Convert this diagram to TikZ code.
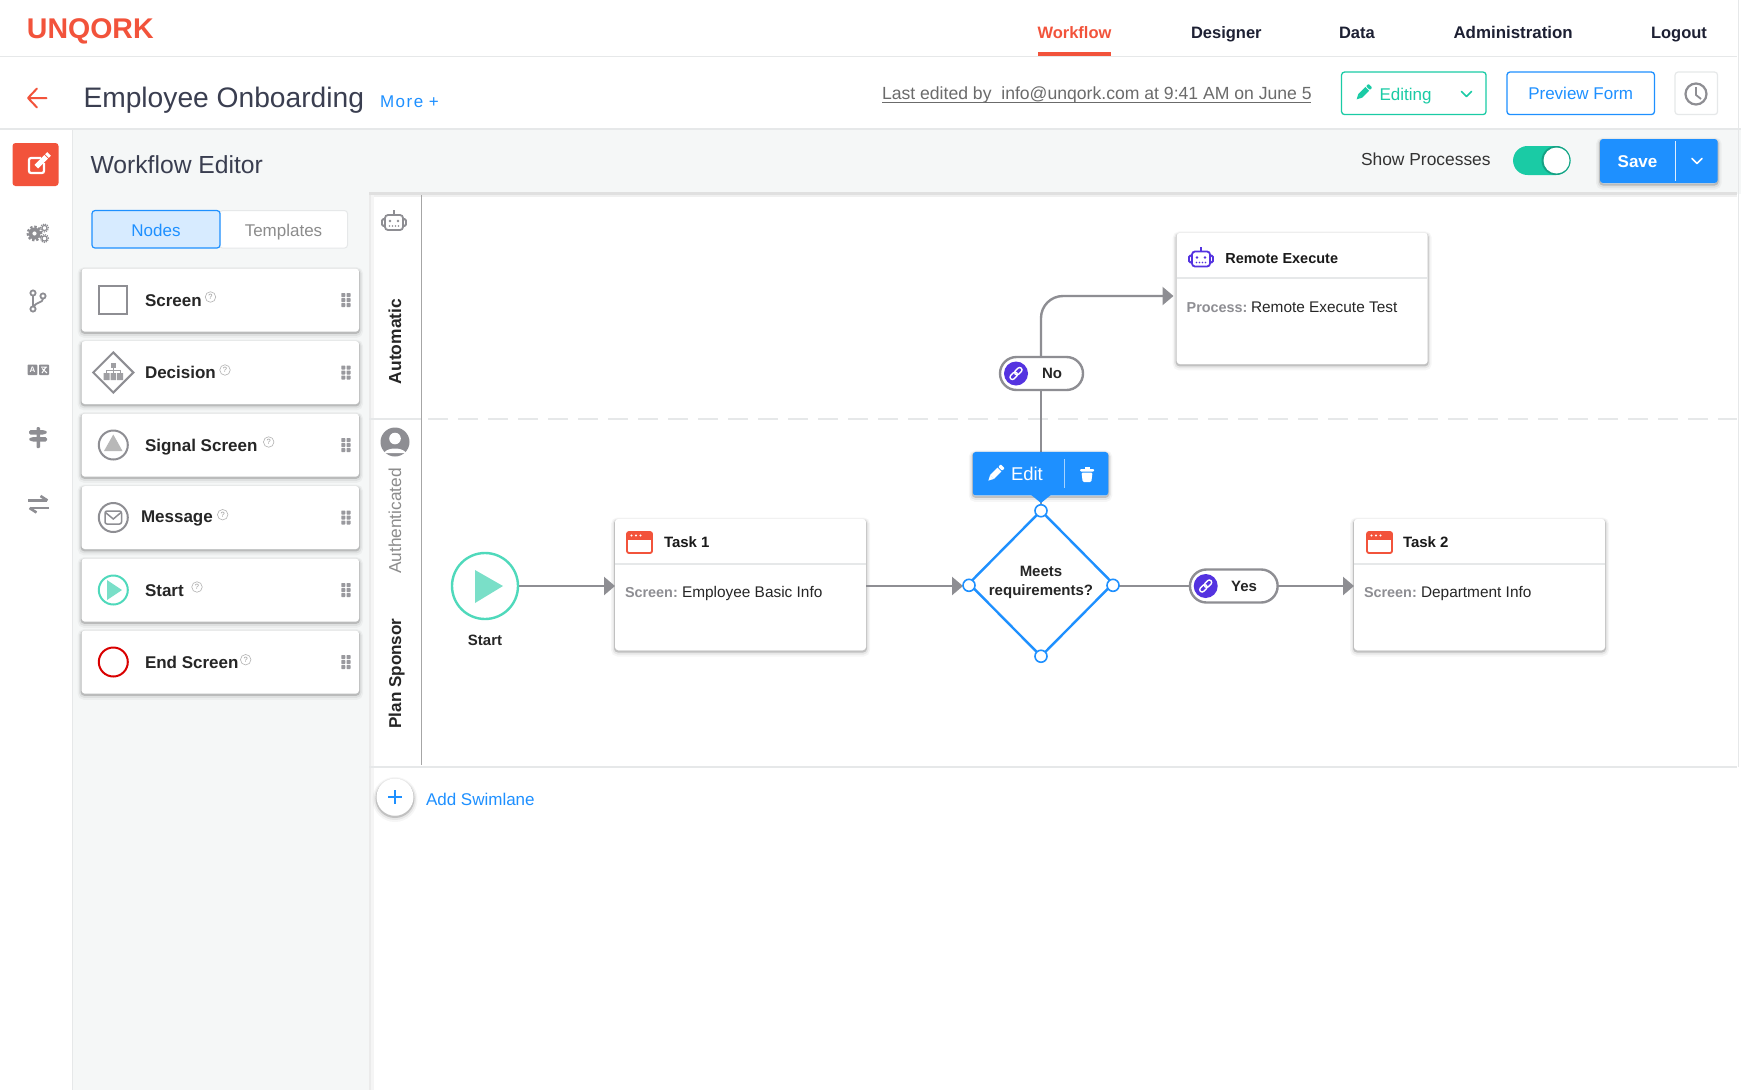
\documentclass[tikz,border=0pt]{standalone}
\usepackage{fontspec}
\setmainfont{Liberation Sans}
\usetikzlibrary{arrows.meta,shapes.geometric}
\definecolor{uRed}{HTML}{F2533B}
\definecolor{uDark}{HTML}{3A3E50}
\definecolor{uNav}{HTML}{1D2033}
\definecolor{uBlue}{HTML}{1E90FF}
\definecolor{uTeal}{HTML}{1ACBA5}
\definecolor{uMint}{HTML}{4FD9BB}
\definecolor{uMintF}{HTML}{7ADFC8}
\definecolor{uGray}{HTML}{8E8E93}
\definecolor{uLight}{HTML}{E6E8E9}
\definecolor{uSide}{HTML}{F5F7F7}
\definecolor{uPurple}{HTML}{5433E0}
\newcommand\fz[1]{\fontsize{#1}{19}\selectfont}
\tikzset{
  softshadow/.style={
    preaction={draw=black,draw opacity=.035,line width=8pt,transform canvas={yshift=-2.5pt}},
    preaction={draw=black,draw opacity=.06,line width=5pt,transform canvas={yshift=-2pt}},
    preaction={draw=black,draw opacity=.16,line width=2pt,transform canvas={yshift=-1.5pt}}},
  txt/.style={inner sep=0pt,outer sep=0pt,anchor=base west},
  nav/.style={txt,font=\fz{16.5}\bfseries,text=uNav},
  cardlbl/.style={txt,font=\fz{17}\bfseries,text=black!85},
  nodetitle/.style={txt,font=\fz{15}\bfseries,text=black!90},
  nodekey/.style={txt,font=\fz{14.4}\bfseries,text=uGray},
  nodeval/.style={txt,font=\fz{15.4},text=black!85},
  lane/.style={inner sep=0pt,anchor=base,rotate=90},
  box/.style={rectangle,inner sep=0pt,outer sep=0pt,rounded corners=3pt},
  card/.style={box,fill=white,softshadow,minimum width=277.5pt,minimum height=62.7pt},
  wfcard/.style={box,fill=white,softshadow,minimum width=251pt,minimum height=131pt},
  conn/.style={draw=uGray,line width=2.4pt,-{Triangle[length=11pt,width=18pt]}},
  wire/.style={draw=uGray,line width=2.4pt},
  pill/.style={box,draw=uGray,line width=2.4pt,fill=white,rounded corners=16.5pt,minimum height=33pt},
  handle/.style={circle,draw=uBlue,fill=white,line width=1.6pt,inner sep=0pt,minimum size=12pt},
  iconring/.style={circle,draw=uGray,line width=2pt,inner sep=0pt,minimum size=29pt},
}
\newcommand\pencil[4]{\begin{scope}[shift={(#1,#2)},rotate=45,scale=#3]
  \fill[#4] (-3,-2.4) rectangle (6,2.4);
  \fill[#4] (-3,-2.4) -- (-3,2.4) -- (-7.5,0) -- cycle;
  \fill[#4] (7,-2.4) [rounded corners=.8pt] -- (7,2.4) -- (10,2.4) -- (10,-2.4) -- cycle;
\end{scope}}
\newcommand\chev[3]{\draw[#3,line width=1.6pt,line cap=round,line join=round] (#1-5,#2-2.5) -- (#1,#2+2.5) -- (#1+5,#2-2.5);}
\newcommand\robot[3]{\begin{scope}[shift={(#1,#2)}]
  \draw[#3,line width=1.8pt,rounded corners=3pt] (-9,-5) rectangle (9,10);
  \draw[#3,line width=1.8pt,rounded corners=1.5pt] (-9,-1) -- (-12,-1) -- (-12,6) -- (-9,6);
  \draw[#3,line width=1.8pt,rounded corners=1.5pt] (9,-1) -- (12,-1) -- (12,6) -- (9,6);
  \draw[#3,line width=1.5pt] (0,-5) -- (0,-10);
  \fill[#3] (-4,1) circle (1.4pt) (4,1) circle (1.4pt);
  \foreach \q in {-4.5,-1.5,1.5,4.5}{\fill[#3] (\q,6) circle (.9pt);}
\end{scope}}
\newcommand\screenicon[2]{\begin{scope}[shift={(#1,#2)}]
  \fill[uRed,rounded corners=2pt] (0,0) rectangle (25,7.5);
  \fill[uRed] (0,4) rectangle (25,7.5);
  \draw[uRed,line width=1.8pt,rounded corners=2pt] (0,0) rectangle (25,21);
  \foreach \q in {4.5,9,13.5}{\fill[white] (\q,3.5) circle (1.2pt);}
\end{scope}}
\newcommand\linkicon[2]{\begin{scope}[shift={(#1,#2)},rotate=45]
  \draw[white,line width=1.4pt,rounded corners=2.4pt] (-7.5,-2.4) rectangle (1,2.4);
  \draw[white,line width=1.4pt,rounded corners=2.4pt] (-1,-2.4) rectangle (7.5,2.4);
\end{scope}}
\newcommand\qmark[3]{\node[circle,draw=black!30,line width=.6pt,inner sep=0pt,minimum size=10.5pt,text=black!40,font=\fz{7.5}] (#1) at (#2,#3) {?};}
\newcommand\grip[1]{\foreach \q in {-5,0,5}{\fill[uGray!90,rounded corners=.6pt] (341.3,#1+\q-2) rectangle (345.3,#1+\q+2);\fill[uGray!90,rounded corners=.6pt] (346.5,#1+\q-2) rectangle (350.5,#1+\q+2);}}
\begin{document}
\begin{tikzpicture}[x=1pt,y=-1pt]
\useasboundingbox (0,0) rectangle (1741,1090);
\fill[white] (0,0) rectangle (1741,1090);
% bands
\fill[uSide] (72,130) rectangle (1741,194);
\fill[uSide] (72,130) rectangle (369,1090);
\draw[uLight,line width=1.2pt] (0,56.5) -- (1737,56.5);
\draw[uLight,line width=2pt] (0,129) -- (1741,129);
\draw[uLight,line width=1pt] (72,130) -- (72,1090);
\draw[uLight,line width=1pt] (1738,0) -- (1738,767);
% canvas
\fill[black!12] (369,192) rectangle (1737,195);
\fill[black!6] (369,195) rectangle (1737,197);
\fill[black!8] (369,195) rectangle (371,1090);
\fill[black!4] (371,195) rectangle (374,1090);
\draw[uLight,line width=2.5pt] (369,767) -- (1737,767);
\draw[uLight,line width=2pt] (369,419.3) -- (422,419.3);
\draw[uLight,line width=2pt,dash pattern=on 20pt off 10pt] (428,419.3) -- (1737,419.3);
\draw[black!35,line width=1.5pt] (421.5,195) -- (421.5,765);
% top bar
\node[txt,font=\fz{28.5}\bfseries,text=uRed] (logo) at (27,38) {UNQORK};
\node[nav,text=uRed] (nWorkflow) at (1037.5,38) {Workflow};
\fill[uRed] (1038,52) rectangle (1111,56);
\node[nav] (nDesigner) at (1191,38) {Designer};
\node[nav] (nData) at (1339,38) {Data};
\node[nav,font=\fz{16.9}\bfseries] (nAdmin) at (1453.5,38) {Administration};
\node[nav] (nLogout) at (1651,38) {Logout};
% second bar
\draw[uRed,line width=2pt,line cap=round,line join=round] (46.5,98) -- (28.5,98) (37,88.5) -- (28,98) -- (37,107.5);
\node[txt,font=\fz{28.2},text=uDark] (title) at (83.5,107) {Employee Onboarding};
\node[txt,font=\fz{17}\addfontfeature{LetterSpace=9},text=uBlue] (more) at (380,107) {More\,\,+};
\node[txt,font=\fz{17.6},text=black!58] (edited) at (882,99.5) {Last edited by\ \ info@unqork.com at 9:41 AM on June 5};
\draw[black!58,line width=1pt] (882,102) -- (1311,102);
\node[box,draw=uTeal,line width=1.3pt,minimum width=144.5pt,minimum height=42.5pt] (editing) at (1413.8,93.3) {};
\pencil{1362.5}{93.5}{1.1}{uTeal}
\node[txt,font=\fz{17},text=uTeal] (editingT) at (1379.5,100) {Editing};
\chev{1466.5}{94}{uTeal}
\node[box,draw=uBlue,line width=1.3pt,minimum width=147.5pt,minimum height=42.5pt,text=uBlue,font=\fz{17}] (preview) at (1580.7,93.3) {Preview Form};
\node[box,draw=uLight,line width=1.2pt,minimum width=42.5pt,minimum height=42.5pt] (clockbtn) at (1696.3,93.3) {};
\draw[uGray,line width=2.2pt] (1696,94) circle (10.5pt);
\draw[uGray,line width=1.8pt] (1696,87) -- (1696,95) -- (1701,99);
% left rail
\node[box,fill=uRed,minimum width=46pt,minimum height=43pt] (railedit) at (35.5,164.5) {};
\draw[white,line width=2.2pt,rounded corners=2pt] (41,158) -- (29,158) -- (29,173) -- (44,173) -- (44,163);
\begin{scope}[shift={(42,161)},rotate=45]
  \fill[white] (-8,-2.6) rectangle (6,2.6);
  \fill[white] (7,-2.6) rectangle (10,2.6);
\end{scope}
% gears
\draw[uGray,line width=2.2pt,dash pattern=on 2.4pt off 1.8pt] (34.5,233.5) circle (6.8pt);
\fill[uGray,even odd rule] (34.5,233.5) circle (6pt) (34.5,233.5) circle (2.2pt);
\draw[uGray,line width=1.2pt] (44.5,228) circle (2.6pt) (44.5,238.5) circle (2.6pt);
\draw[uGray,line width=1.1pt,dash pattern=on 1.2pt off 1pt] (44.5,228) circle (4pt) (44.5,238.5) circle (4pt);
% branch
\draw[uGray,line width=1.8pt] (33,293) circle (2.6pt) (33,309) circle (2.6pt) (43,296) circle (2.6pt);
\draw[uGray,line width=1.8pt] (33,295.6) -- (33,306.4) (43,298.6) .. controls (43,303) and (36,302) .. (33.5,306.5);
% translation
\fill[uGray,rounded corners=.8pt] (27.5,364.5) rectangle (37.3,375);
\fill[uGray,rounded corners=.8pt] (39,364.5) rectangle (49,375);
\node[inner sep=0pt,text=white,font=\fz{8}\bfseries] (aglyph) at (32.4,369.8) {A};
\draw[white,line width=1pt] (41,367) -- (47,367) (46,367) -- (42,373) (42,368.5) -- (47,373);
% signpost
\fill[uGray,rounded corners=1pt] (36.5,427) rectangle (40,448);
\fill[uGray,rounded corners=1.5pt] (29,430) -- (44,430) -- (48,432.3) -- (44,434.6) -- (29,434.6) -- cycle;
\fill[uGray,rounded corners=1.5pt] (47,437) -- (32,437) -- (28,439.3) -- (32,441.6) -- (47,441.6) -- cycle;
% swap
\draw[uGray,line width=2.6pt] (28,500.5) -- (47,500.5) (49,508) -- (30,508);
\draw[uGray,line width=2.6pt] (40.5,496) -- (47.5,500.5) (36.5,512.5) -- (29.5,508);
% heading
\node[txt,font=\fz{24.7},text=uDark] (wfe) at (90.5,173) {Workflow Editor};
\node[txt,font=\fz{17.4},text=black!80] (showp) at (1361,165) {Show Processes};
\node[box,fill=uTeal,rounded corners=14.5pt,minimum width=57.5pt,minimum height=29pt] (toggle) at (1541.8,160.5) {};
\fill[uTeal!80!black] (1556,160.5) circle (14.5pt);
\fill[white] (1556.5,160.5) circle (13pt);
\node[box,fill=uBlue,softshadow,minimum width=117.6pt,minimum height=44pt] (save) at (1658.8,161) {};
\draw[white!85!uBlue,line width=1pt] (1675,141) -- (1675,181);
\node[txt,font=\fz{17}\bfseries,text=white,anchor=base] (saveT) at (1637.5,167) {Save};
\chev{1697}{161}{white}
% tabs
\node[box,fill=white,draw=uLight,line width=1pt,minimum width=128pt,minimum height=37.5pt] (tabT) at (283.5,229.3) {};
\node[box,fill=uBlue!18,draw=uBlue,line width=1.2pt,minimum width=128pt,minimum height=37.5pt] (tabN) at (156,229.3) {};
\node[txt,anchor=base,font=\fz{17},text=uBlue] (tabNT) at (156,236) {Nodes};
\node[txt,anchor=base,font=\fz{17},text=black!45] (tabTT) at (283.5,236) {Templates};
% palette cards
\foreach \nm/\lb/\yy/\lx/\by in {cScreen/Screen/300/145/306,cDecision/Decision/372.5/145/378,cSignal/Signal Screen/445/145/451,cMessage/Message/517.5/141/522.5,cStart/Start/590/145/596,cEnd/End Screen/662/145/668}{
  \node[card] (\nm) at (220.3,\yy) {};
  \node[cardlbl] (\nm T) at (\lx,\by) {\lb};
  \grip{\yy}
}
\qmark{qa}{210.5}{297}\qmark{qb}{225}{370}\qmark{qc}{268.7}{442}\qmark{qd}{222.7}{514.7}\qmark{qe}{197}{587}\qmark{qf}{245.7}{659.7}
% palette icons
\node[rectangle,draw=uGray,line width=2pt,inner sep=0pt,minimum size=28pt] (iScreen) at (113.3,300) {};
\node[diamond,draw=uGray,line width=2pt,inner sep=0pt,minimum size=41pt] (iDecision) at (113.3,372.5) {};
\fill[uGray!85] (110.5,362.5) rectangle (116,367.5);
\fill[uGray!85] (103.5,373) rectangle (109.5,380) (110.5,373) rectangle (116,380) (117,373) rectangle (123,380);
\draw[uGray!85,line width=1pt] (113.3,367) -- (113.3,373) (106.5,373) -- (106.5,370.5) -- (120,370.5) -- (120,373);
\node[iconring] (iSignal) at (113.3,445) {};
\fill[black!28] (113.3,434.5) -- (122.5,451) -- (104,451) -- cycle;
\node[iconring] (iMessage) at (113.3,517.5) {};
\draw[uGray,line width=1.5pt,rounded corners=2pt] (105,511) rectangle (121.5,524);
\draw[uGray,line width=1.5pt] (105.5,512.5) -- (113.3,519) -- (121,512.5);
\node[iconring,draw=uMint] (iStart) at (113.3,590) {};
\fill[uMintF] (107,580) -- (122,590) -- (107,600) -- cycle;
\node[iconring,draw=red!85!black] (iEnd) at (113.3,662) {};
% lane labels
\robot{394}{220}{uGray}
\node[lane,font=\fz{17.4}\bfseries,text=black!85] (lAuto) at (401,341.5) {Automatic};
\node[circle,fill=uGray,inner sep=0pt,minimum size=29pt] (lPerson) at (395,442) {};
\fill[white] (395,438.5) circle (5.8pt);
\fill[white] (384,453) .. controls (387,447) and (403,447) .. (406,453) .. controls (402,453) and (388,453) .. (384,453);
\node[lane,font=\fz{17.3},text=black!45] (lAuth) at (401,521) {Authenticated};
\node[lane,font=\fz{17.1}\bfseries,text=black!85] (lPlan) at (401,673.5) {Plan Sponsor};
% workflow nodes
\node[circle,draw=uMint,line width=2.4pt,fill=white,inner sep=0pt,minimum size=66pt] (start) at (485,586) {};
\fill[uMintF] (475,570) -- (503,586) -- (475,603) -- cycle;
\node[txt,anchor=base,font=\fz{15}\bfseries,text=black!85] (startT) at (485,645) {Start};
\node[wfcard] (task1) at (740.5,584.5) {};
\node[wfcard] (task2) at (1479.5,584.5) {};
\node[wfcard] (remote) at (1302.2,298.4) {};
\draw[uLight,line width=1.2pt] (615,564) -- (866,564) (1354,564) -- (1605,564) (1177,278) -- (1427.7,278);
\screenicon{627}{532}
\screenicon{1367}{532}
\robot{1201}{256.5}{uPurple}
\node[nodetitle] (t1T) at (664,547) {Task 1};
\node[nodetitle] (t2T) at (1403,547) {Task 2};
\node[nodetitle,font=\fz{14.5}\bfseries] (rT) at (1225.3,263.5) {Remote Execute};
\node[nodekey] (t1k) at (625,597) {Screen:};
\node[nodeval] (t1v) at (682,597) {Employee Basic Info};
\node[nodekey] (t2k) at (1364,597) {Screen:};
\node[nodeval] (t2v) at (1421,597) {Department Info};
\node[nodekey] (rk) at (1186.7,312) {Process:};
\node[nodeval] (rv) at (1251,312) {Remote Execute Test};
\node[diamond,draw=uBlue,line width=2.4pt,fill=white,inner sep=0pt,outer sep=0pt,minimum width=144pt,minimum height=145.5pt] (dec) at (1041,583.5) {};
\node[txt,anchor=base,font=\fz{15}\bfseries,text=black!85] (decA) at (1041,576) {Meets};
\node[txt,anchor=base,font=\fz{15}\bfseries,text=black!85] (decB) at (1041,595) {requirements?};
\node[pill,minimum width=87.7pt] (yes) at (1233.8,586) {};
\node[pill,minimum width=83pt] (no) at (1041.5,373.5) {};
\fill[uPurple] (1205.7,586) circle (12pt);
\fill[uPurple] (1016,373.5) circle (12pt);
\linkicon{1205.7}{586}
\linkicon{1016}{373.5}
\node[txt,anchor=base,font=\fz{15}\bfseries,text=black!85] (yesT) at (1244,591) {Yes};
\node[txt,anchor=base,font=\fz{15}\bfseries,text=black!85] (noT) at (1052,378) {No};
\coordinate (rin) at (1173.5,296);
% connectors
\draw[conn] (start.east) -- (start.east -| task1.west);
\draw[conn,shorten >=6pt] (task1.east |- start.east) -- (dec.west |- start.east);
\draw[wire] (dec.east |- yes.west) -- (yes.west);
\draw[conn] (yes.east) -- (yes.east -| task2.west);
\draw[wire] (dec.north) -- (no.south -| dec.north);
\draw[conn,rounded corners=22pt] (no.north -| dec.north) -- (dec.north |- rin) -- (rin);
% handles
\foreach \a/\nm/\dy in {north/hN/0,west/hW/1.8,east/hE/1.8,south/hS/0}{\node[handle] (\nm) at ([yshift=-\dy pt]dec.\a) {};}
% popup
\node[box,fill=uBlue,softshadow,minimum width=135.5pt,minimum height=43.5pt] (popup) at (1040.5,473.7) {};
\fill[uBlue] (1030,494) -- (1041,503) -- (1052,494) -- cycle;
\pencil{994.5}{474.5}{1.15}{white}
\node[txt,font=\fz{18.5},text=white] (popupT) at (1011,480) {Edit};
\draw[white!60!uBlue,line width=1pt] (1064,459) -- (1064,488);
\fill[white,rounded corners=1pt] (1080,469) rectangle (1094,471.5);
\fill[white] (1084.5,467) rectangle (1089.5,470);
\fill[white,rounded corners=1.2pt] (1081.5,472.5) -- (1092.5,472.5) -- (1091.3,482) -- (1082.7,482) -- cycle;
% add swimlane
\node[circle,fill=white,softshadow,inner sep=0pt,minimum size=37pt] (add) at (395,797) {};
\draw[uBlue,line width=1.8pt] (388,797) -- (402,797) (395,790) -- (395,804);
\node[txt,font=\fz{17},text=uBlue] (addT) at (426,805.5) {Add Swimlane};
\end{tikzpicture}
\end{document}
